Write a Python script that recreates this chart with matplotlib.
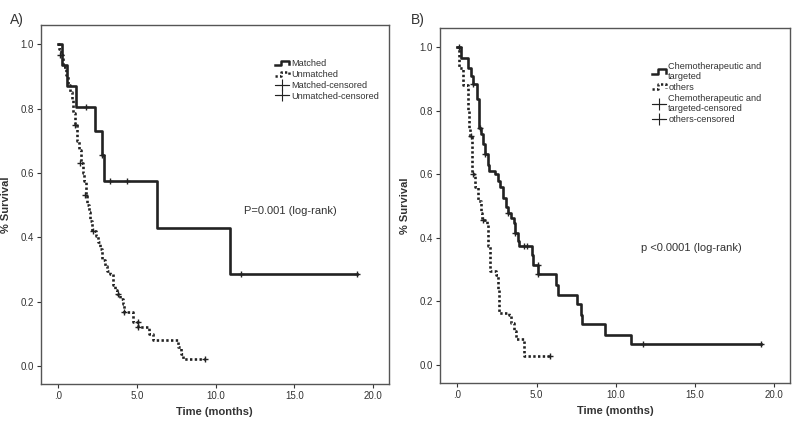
import matplotlib
matplotlib.use('Agg')
import matplotlib.pyplot as plt
from matplotlib.lines import Line2D
from matplotlib.legend_handler import HandlerBase

plt.rcParams['font.family'] = ['Liberation Sans', 'DejaVu Sans']

# panel A: matched vs unmatched
a_matched_t = [0, 0.27, 0.55, 1.14, 2.35, 2.77, 2.92, 6.3, 10.9, 19.0]
a_matched_s = [1.0, 0.935, 0.87, 0.805, 0.73, 0.655, 0.575, 0.43, 0.287, 0.287]
a_matched_cens_t = [1.76, 2.8, 3.3, 4.4, 11.6, 19.0]
a_matched_cens_s = [0.805, 0.655, 0.575, 0.575, 0.287, 0.287]

a_unmatched_t = [0, 0.08, 0.2, 0.34, 0.5, 0.6, 0.76, 0.87, 0.97, 1.1, 1.23, 1.3, 1.45,
                 1.55, 1.65, 1.75, 1.86, 1.95, 2.05, 2.14, 2.4, 2.55, 2.65, 2.77, 2.95,
                 3.1, 3.3, 3.47, 3.6, 3.73, 3.94, 4.15, 4.19, 4.75, 5.1, 5.8, 6.05, 7.6,
                 7.8, 7.96, 9.3]
a_unmatched_s = [1.0, 0.985, 0.966, 0.93, 0.905, 0.873, 0.852, 0.826, 0.785, 0.75, 0.70,
                 0.67, 0.63, 0.60, 0.575, 0.53, 0.50, 0.478, 0.45, 0.42, 0.405, 0.385,
                 0.364, 0.33, 0.31, 0.295, 0.287, 0.25, 0.235, 0.222, 0.209, 0.193,
                 0.168, 0.137, 0.121, 0.10, 0.08, 0.059, 0.038, 0.02, 0.02]
a_unmatched_cens_t = [0.13, 1.05, 1.4, 1.72, 2.2, 3.8, 4.2, 5.1, 5.1, 9.3]
a_unmatched_cens_s = [0.966, 0.75, 0.63, 0.53, 0.42, 0.222, 0.168, 0.137, 0.121, 0.02]

# panel B: chemotherapeutic and targeted vs others
b_chemo_t = [0, 0.23, 0.65, 0.86, 1.0, 1.22, 1.38, 1.49, 1.6, 1.76, 1.91, 2.0, 2.39,
             2.54, 2.7, 2.86, 3.06, 3.17, 3.38, 3.58, 3.65, 3.8, 3.9, 4.7, 4.78, 5.1,
             6.2, 6.37, 7.57, 7.78, 7.88, 9.35, 10.96, 19.16]
b_chemo_s = [1.0, 0.966, 0.935, 0.909, 0.883, 0.835, 0.746, 0.725, 0.694, 0.662, 0.63,
             0.61, 0.6, 0.579, 0.558, 0.526, 0.495, 0.478, 0.462, 0.447, 0.415, 0.389,
             0.373, 0.347, 0.315, 0.285, 0.252, 0.221, 0.19, 0.158, 0.127, 0.095,
             0.064, 0.064]
b_chemo_cens_t = [0.1, 1.0, 1.4, 1.76, 3.17, 3.65, 4.2, 4.4, 5.1, 5.1, 11.72, 19.16]
b_chemo_cens_s = [1.0, 0.883, 0.746, 0.662, 0.478, 0.415, 0.373, 0.373, 0.315, 0.285,
                  0.064, 0.064]

b_others_t = [0, 0.08, 0.36, 0.65, 0.72, 0.8, 0.95, 1.1, 1.28, 1.49, 1.55, 1.84, 1.91,
              2.06, 2.43, 2.54, 2.64, 3.27, 3.38, 3.58, 3.69, 4.21, 5.83]
b_others_s = [1.0, 0.935, 0.882, 0.80, 0.742, 0.72, 0.6, 0.56, 0.516, 0.478, 0.457,
              0.441, 0.373, 0.294, 0.284, 0.237, 0.163, 0.158, 0.132, 0.106, 0.082,
              0.027, 0.027]
b_others_cens_t = [0.86, 1.0, 1.6, 5.83]
b_others_cens_s = [0.72, 0.6, 0.457, 0.027]

x_ticks = [0, 5, 10, 15, 20]
x_ticklabels = ['.0', '5.0', '10.0', '15.0', '20.0']
y_ticks = [0.0, 0.2, 0.4, 0.6, 0.8, 1.0]

TXT = '#333333'
DOTS = (0, (0.9, 0.9))


class StepHandler(HandlerBase):
    # SPSS-like little step icon for the survival lines
    def create_artists(self, legend, orig_handle, xdescent, ydescent,
                       width, height, fontsize, trans):
        x0, y0 = -xdescent, -ydescent
        xs = [x0, x0 + 0.45 * width, x0 + 0.45 * width, x0 + 0.95 * width, x0 + 0.95 * width]
        ys = [y0 + 0.1 * height, y0 + 0.1 * height, y0 + 0.85 * height,
              y0 + 0.85 * height, y0 + 0.35 * height]
        line = Line2D(xs, ys)
        line.update_from(orig_handle)
        line.set_transform(trans)
        return [line]


def km_panel(ax, curves, labels, ptext, ppos, legpos):
    for t, s, ct, cs, ls in curves:
        ax.step(t, s, where='post', color='#222222', lw=1.9, linestyle=ls)
        ax.plot(ct, cs, linestyle='none', marker='+', color='#222222', ms=5, mew=1.0)

    ax.set_xlim(-1.1, 21.0)
    ax.set_ylim(-0.057, 1.06)
    ax.set_xticks(x_ticks)
    ax.set_xticklabels(x_ticklabels)
    ax.set_yticks(y_ticks)
    ax.set_yticklabels(['%.1f' % v for v in y_ticks])
    ax.tick_params(direction='out', length=3, width=0.8, labelsize=7, colors=TXT, pad=2)
    for sp in ax.spines.values():
        sp.set_color('#555555')
        sp.set_linewidth(1.0)

    ax.set_xlabel('Time (months)', fontsize=8, fontweight='bold', color=TXT)
    ax.set_ylabel('% Survival', fontsize=8, fontweight='bold', color=TXT)
    ax.xaxis.set_label_coords(0.5, -0.065)
    ax.yaxis.set_label_coords(-0.085, 0.5)

    ax.text(ppos[0], ppos[1], ptext, fontsize=8, color=TXT, va='center')

    h1 = Line2D([], [], color='#222222', lw=1.8, linestyle='-')
    h2 = Line2D([], [], color='#222222', lw=1.8, linestyle=DOTS)
    h3 = Line2D([], [], color='#222222', lw=0.8, marker='+', ms=8, mew=0.8)
    h4 = Line2D([], [], color='#222222', lw=0.8, marker='+', ms=8, mew=0.8)
    leg = ax.legend([h1, h2, h3, h4], labels, loc='upper left', bbox_to_anchor=legpos,
                    frameon=False, fontsize=6.6, handlelength=1.6, handletextpad=0.2,
                    labelspacing=0.2, borderpad=0, borderaxespad=0,
                    handler_map={h1: StepHandler(), h2: StepHandler()})
    for txt in leg.get_texts():
        txt.set_color(TXT)


fig = plt.figure(figsize=(8, 4.24), dpi=100)
ax1 = fig.add_axes([0.051, 0.094, 0.435, 0.847])
ax2 = fig.add_axes([0.55, 0.097, 0.4375, 0.837])

km_panel(ax1,
         [(a_matched_t, a_matched_s, a_matched_cens_t, a_matched_cens_s, '-'),
          (a_unmatched_t, a_unmatched_s, a_unmatched_cens_t, a_unmatched_cens_s, DOTS)],
         ['Matched', 'Unmatched', 'Matched-censored', 'Unmatched-censored'],
         'P=0.001 (log-rank)', (11.8, 0.48), (0.672, 0.905))

km_panel(ax2,
         [(b_chemo_t, b_chemo_s, b_chemo_cens_t, b_chemo_cens_s, '-'),
          (b_others_t, b_others_s, b_others_cens_t, b_others_cens_s, DOTS)],
         ['Chemotherapeutic and\ntargeted', 'others',
          'Chemotherapeutic and\ntargeted-censored', 'others-censored'],
         'p <0.0001 (log-rank)', (11.6, 0.368), (0.605, 0.905))

fig.text(0.012, 0.97, 'A)', fontsize=10, color=TXT, va='top')
fig.text(0.514, 0.97, 'B)', fontsize=10, color=TXT, va='top')

fig.savefig('out.png', dpi=100, facecolor='white')
